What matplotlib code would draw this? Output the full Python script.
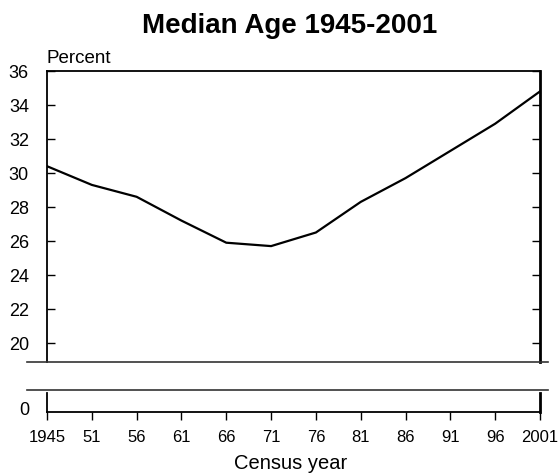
import matplotlib.pyplot as plt
from matplotlib.lines import Line2D

plt.rcParams['font.family'] = ['Liberation Sans', 'DejaVu Sans']

# census years (shown as categories, equally spaced)
year_labels = ['1945', '51', '56', '61', '66', '71', '76', '81', '86', '91', '96', '2001']
median_age = [30.4, 29.3, 28.6, 27.2, 25.9, 25.7, 26.5, 28.3, 29.7, 31.3, 32.9, 34.8]

W, H = 558, 475
fig = plt.figure(figsize=(W / 100, H / 100), dpi=100)

def fx(px):
    return px / W

def fy(py):
    return 1 - py / H

left, right = 47, 540
x = list(range(len(year_labels)))

# upper panel (20-36)
ax = fig.add_axes([fx(left), fy(362), fx(right) - fx(left), fy(71) - fy(362)])
ax.plot(x, median_age, color='black', lw=1.6, solid_joinstyle='miter')
ax.set_xlim(0, len(x) - 1)
ax.set_ylim(36 - (362 - 71) / 17.0, 36)
ax.set_yticks(range(20, 37, 2))
ax.tick_params(axis='y', direction='in', length=6, width=1, labelsize=13, pad=13,
               right=True, labelright=False)
ax.set_xticks([])
ax.spines['bottom'].set_visible(False)
ax.spines['left'].set_linewidth(1.3)
ax.spines['top'].set_linewidth(1.3)
ax.spines['right'].set_linewidth(2)

# lower panel (just zero)
ax2 = fig.add_axes([fx(left), fy(412), fx(right) - fx(left), fy(393) - fy(412)])
ax2.set_xlim(0, len(x) - 1)
ax2.set_ylim(-0.2, 1)
ax2.set_yticks([0])
ax2.tick_params(axis='y', length=0, labelsize=13, pad=13)
ax2.set_xticks(x)
ax2.set_xticklabels(year_labels)
ax2.tick_params(axis='x', direction='out', length=6, width=1, labelsize=12, pad=7)
ax2.spines['top'].set_visible(False)
ax2.spines['left'].set_linewidth(1.3)
ax2.spines['bottom'].set_linewidth(1.3)
ax2.spines['right'].set_linewidth(2)

# axis break lines
for yy in (362, 390):
    fig.add_artist(Line2D([fx(27), fx(548)], [fy(yy), fy(yy)], color='#333333', lw=1.2))

fig.text(fx(290), fy(33), 'Median Age 1945-2001', ha='center', va='baseline',
         fontsize=20, fontweight='bold')
fig.text(fx(47), fy(63), 'Percent', ha='left', va='baseline', fontsize=13.5)
fig.text(fx(291), fy(469), 'Census year', ha='center', va='baseline', fontsize=14.5)

fig.savefig('out.png', dpi=100)
